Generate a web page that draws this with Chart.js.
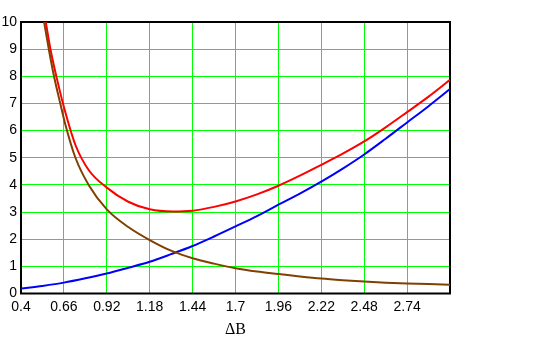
<!DOCTYPE html>
<html>
<head>
<meta charset="utf-8">
<script src="https://cdn.jsdelivr.net/npm/chart.js@4/dist/chart.umd.min.js"></script>
<style>
    html, body { margin: 0; padding: 0; background: #fff; }
</style>
</head>
<body>
<canvas id="myChart" width="556" height="339"></canvas>
<script>
// axis ticks
const xTicks = [0.4, 0.66, 0.92, 1.18, 1.44, 1.7, 1.96, 2.22, 2.48, 2.74, 3.0];
const xTickLabels = ['0.4', '0.66', '0.92', '1.18', '1.44', '1.7', '1.96', '2.22', '2.48', '2.74', ''];
const yTicks = [0, 1, 2, 3, 4, 5, 6, 7, 8, 9, 10];
const yTickLabels = ['0', '1', '2', '3', '4', '5', '6', '7', '8', '9', '10'];

// blue curve
const blueX = [0.4, 0.53, 0.66, 0.79, 0.92, 1.05, 1.18, 1.31, 1.44, 1.57, 1.7, 1.83, 1.96, 2.09, 2.22, 2.35, 2.48, 2.61, 2.74, 2.87, 3.0];
const blueY = [0.18, 0.28, 0.4, 0.56, 0.74, 0.95, 1.17, 1.45, 1.75, 2.1, 2.47, 2.85, 3.27, 3.68, 4.12, 4.6, 5.12, 5.7, 6.3, 6.9, 7.53];

// brown curve
const brownX = [0.54, 0.57, 0.6, 0.64, 0.67, 0.73, 0.81, 0.92, 1.05, 1.18, 1.32, 1.44, 1.57, 1.7, 1.83, 1.96, 2.09, 2.22, 2.35, 2.48, 2.61, 2.74, 2.87, 3.0];
const brownY = [10.0, 8.95, 8.0, 6.95, 6.2, 5.0, 4.0, 3.1, 2.45, 1.97, 1.55, 1.3, 1.1, 0.93, 0.81, 0.72, 0.63, 0.55, 0.49, 0.44, 0.4, 0.37, 0.35, 0.32];

// red curve
const redX = [0.55, 0.58, 0.62, 0.66, 0.73, 0.81, 0.92, 1.05, 1.18, 1.32, 1.44, 1.57, 1.7, 1.83, 1.96, 2.09, 2.22, 2.35, 2.48, 2.61, 2.74, 2.87, 3.0];
const redY = [10.0, 8.95, 7.85, 6.87, 5.47, 4.55, 3.9, 3.38, 3.1, 3.02, 3.05, 3.19, 3.39, 3.65, 3.97, 4.34, 4.74, 5.15, 5.6, 6.12, 6.68, 7.25, 7.87];

const toPoints = (xs, ys) => xs.map((x, i) => ({ x: x, y: ys[i] }));

const tickFont = { family: '"Liberation Sans", Arial, sans-serif', size: 14 };

// black box round the plot area, under the curves
const frame = {
    id: 'frame',
    beforeDatasetsDraw(chart) {
        const { ctx, chartArea: a } = chart;
        ctx.save();
        ctx.strokeStyle = '#000';
        ctx.lineWidth = 2;
        ctx.strokeRect(a.left, a.top, a.right - a.left, a.bottom - a.top);
        ctx.restore();
    }
};

const line = (data, color) => ({
    data: data,
    borderColor: color,
    borderWidth: 2,
    pointRadius: 0,
    fill: false,
    cubicInterpolationMode: 'monotone'
});

var ctx = document.getElementById('myChart').getContext('2d');
var chart = new Chart(ctx, {
    type: 'line',
    data: {
        datasets: [
            line(toPoints(brownX, brownY), '#804000'),
            line(toPoints(blueX, blueY), '#0000ff'),
            line(toPoints(redX, redY), '#ff0000')
        ]
    },
    options: {
        responsive: false,
        animation: false,
        layout: { padding: { top: 22, right: 106, left: 0, bottom: 0 } },
        plugins: {
            legend: { display: false },
            tooltip: { enabled: false }
        },
        scales: {
            x: {
                type: 'linear',
                min: 0.4,
                max: 3.0,
                afterBuildTicks: scale => { scale.ticks = xTicks.map(v => ({ value: v })); },
                afterFit: scale => { scale.height = 45.5; },
                ticks: {
                    callback: (v, i) => xTickLabels[i],
                    font: tickFont,
                    color: '#000',
                    padding: 5,
                    maxRotation: 0,
                    autoSkip: false
                },
                grid: { color: '#00ff00', lineWidth: 1, drawTicks: false },
                border: { display: false },
                title: {
                    display: true,
                    text: 'ΔB',
                    color: '#000',
                    font: { family: '"Liberation Serif", "Times New Roman", serif', size: 16 },
                    padding: { top: 0, bottom: 0 }
                }
            },
            y: {
                min: 0,
                max: 10,
                afterBuildTicks: scale => { scale.ticks = yTicks.map(v => ({ value: v })); },
                afterFit: scale => { scale.width = 21; },
                ticks: {
                    callback: (v, i) => yTickLabels[i],
                    font: tickFont,
                    color: '#000',
                    padding: 4
                },
                grid: { color: '#00ff00', lineWidth: 1, drawTicks: false },
                border: { display: false }
            }
        }
    },
    plugins: [frame]
});
</script>
</body>
</html>
